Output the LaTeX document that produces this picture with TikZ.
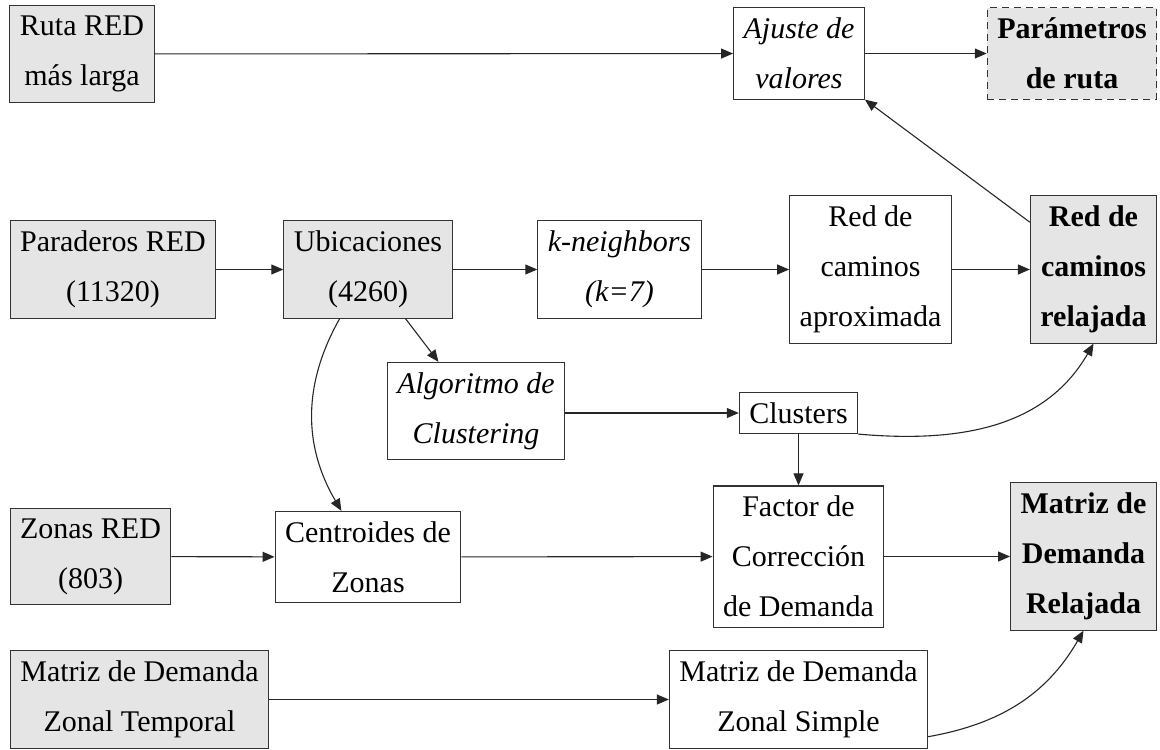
\documentclass[tikz,border=0pt]{standalone}
\usepackage{fontspec}
\setmainfont{Liberation Serif}
\usetikzlibrary{arrows.meta}

\tikzset{
  caja/.style={draw=black!80, line width=0.55pt, align=center, inner sep=5pt,
    font=\fontsize{15pt}{25pt}\selectfont},
  dato/.style={caja, fill=gray!20},
  proceso/.style={caja, fill=white},
  algo/.style={caja, fill=white, font=\fontsize{15pt}{25pt}\selectfont\itshape},
  resultado/.style={dato, font=\fontsize{15pt}{25pt}\selectfont\bfseries},
  salida/.style={resultado, dash pattern=on 3.5pt off 2.5pt},
  flecha/.style={-{Triangle[length=6pt,width=5pt]}, line width=0.55pt, draw=black!85}
}

\begin{document}
\begin{tikzpicture}[x=0.5pt, y=-0.5pt]
  \useasboundingbox (0,0) rectangle (1160,749);

  % Ruta mas larga
  \node[dato] (ruta) at (82,54) {Ruta RED\\más larga};
  \node[algo] (ajuste) at (799,53.5) {Ajuste de\\valores};
  \node[salida] (param) at (1072,53.5) {Parámetros\\de ruta};

  % Red de caminos
  \node[dato] (paraderos) at (113,269.5) {Paraderos RED\\(11320)};
  \node[dato] (ubic) at (368,269.5) {Ubicaciones\\(4260)};
  \node[algo] (kneigh) at (619.5,269.5) {k-neighbors\\(k=7)};
  \node[proceso] (redaprox) at (870.5,269.5) {Red de\\caminos\\aproximada};
  \node[resultado] (redrel) at (1093.5,269.5) {Red de\\caminos\\relajada};

  % Clustering
  \node[algo] (cluster) at (476,411) {Algoritmo de\\Clustering};
  \node[proceso] (clusters) at (798.5,413) {Clusters};

  % Demanda
  \node[dato] (zonas) at (90.5,556.5) {Zonas RED\\(803)};
  \node[proceso] (centroides) at (368,557) {Centroides de\\Zonas};
  \node[proceso] (factor) at (798.5,556.5) {Factor de\\Corrección\\de Demanda};
  \node[resultado] (matrizrel) at (1083.5,556.5) {Matriz de\\Demanda\\Relajada};
  \node[dato] (temporal) at (139.5,699.5) {Matriz de Demanda\\Zonal Temporal};
  \node[proceso] (simple) at (798.5,699.5) {Matriz de Demanda\\Zonal Simple};

  % Flechas
  \draw[flecha] (ruta) -- (ajuste);
  \draw[flecha] (ajuste) -- (param);
  \draw[flecha] (redrel) -- (ajuste.south east);
  \draw[flecha] (paraderos) -- (ubic);
  \draw[flecha] (ubic) -- (kneigh);
  \draw[flecha] (kneigh) -- (redaprox);
  \draw[flecha] (redaprox) -- (redrel);
  \draw[flecha] (ubic) -- (cluster);
  \draw[flecha] (ubic) to[bend right=30] (centroides);
  \draw[flecha] (cluster.east |- clusters.west) -- (clusters.west);
  \draw[flecha] (clusters) -- (factor);
  \draw[flecha] (clusters.south east) to[out=-5,in=-120] (redrel.south);
  \draw[flecha] (zonas) -- (centroides);
  \draw[flecha] (centroides) -- (factor);
  \draw[flecha] (factor) -- (matrizrel);
  \draw[flecha] (temporal) -- (simple);
  \draw[flecha] (simple.-16) to[out=10,in=-120] (matrizrel.south);
\end{tikzpicture}
\end{document}
